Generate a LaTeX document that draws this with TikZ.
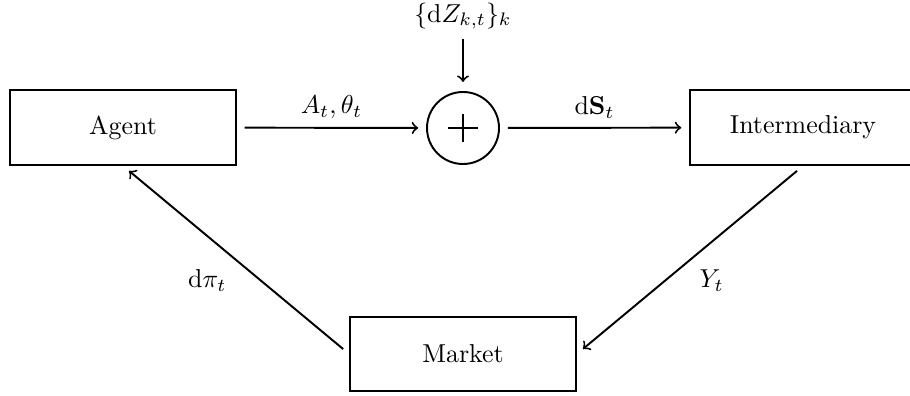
\documentclass[tikz,border=0pt]{standalone}
\usetikzlibrary{arrows}
\begin{document}
\begin{tikzpicture}[x=0.3861pt,y=-0.3861pt,
  line width=0.75pt,
  blockbox/.style={draw, rectangle, minimum width=87.2pt, minimum height=28.9pt, inner sep=0pt},
  sumnode/.style={draw, circle, minimum size=27.8pt, inner sep=0pt},
  flow/.style={->, shorten >=3pt, shorten <=3pt}
]
\useasboundingbox (0,0) rectangle (910,396);
\node[blockbox] (agent) at (123,127.5) {Agent};
\node[sumnode] (sum) at (463,128) {};
\draw (sum.center) ++(-15,0) -- ++(30,0);
\draw (sum.center) ++(0,-14) -- ++(0,28);
\node[blockbox] (inter) at (803,127.5) {Intermediary};
\node[blockbox] (market) at (463,354) {Market};
\node (dz) at (463,16) {$\{\mathrm{d}Z_{k,t}\}_k$};

\draw[->, shorten >=3.5pt] (dz) -- (sum);
\draw[flow] (agent) -- node[above] {$A_t,\theta_t$} (sum);
\draw[flow] (sum) -- node[above] {$\mathrm{d}\mathbf{S}_t$} (inter);
\draw[flow] (inter.south) -- node[below right] {$Y_t$} (market.east);
\draw[flow] (market.west) -- node[below left] {$\mathrm{d}\pi_t$} (agent.south);
\end{tikzpicture}
\end{document}
